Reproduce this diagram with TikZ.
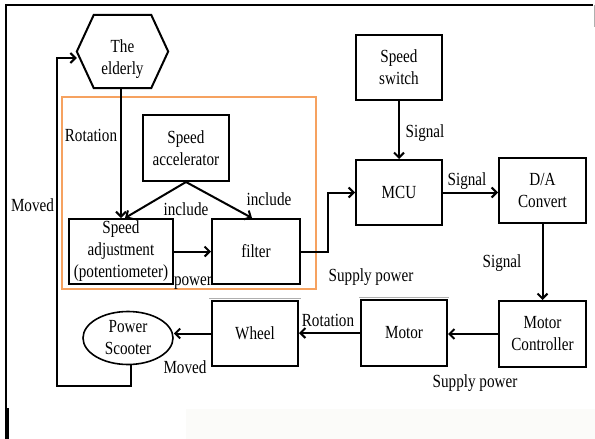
\documentclass[tikz,border=0pt]{standalone}
\usepackage{fontspec}
\setmainfont{Liberation Serif}[FakeStretch=0.82]
\usetikzlibrary{arrows.meta,shapes.geometric}
\definecolor{frameorange}{RGB}{246,162,96}
\definecolor{ghostgray}{RGB}{175,175,175}
\definecolor{paleblock}{RGB}{251,251,249}
\begin{document}
\begin{tikzpicture}[x=1pt,y=-1pt,
  every node/.style={font=\fontsize{18.5}{22}\selectfont},
  block/.style={draw,line width=2pt,align=center,inner sep=0pt,minimum height=65pt},
  link/.style={line width=2pt,-{Straight Barb[length=5pt,width=10pt]}},
  lbl/.style={inner sep=0pt},
  ghost/.style={ghostgray,line width=0.8pt}]
\useasboundingbox (0,0) rectangle (595,439);

% page frame and pale strip at the bottom
\fill[paleblock] (186,409) rectangle (595,439);
\draw[line width=1.3pt] (6,439) -- (6,5) -- (593,5);
\draw[line width=3pt] (7.5,408) -- (7.5,439);
\draw[ghostgray,line width=0.6pt] (594,5) -- (594,27);

% the user (hexagon)
\node[minimum width=91pt,minimum height=73pt,inner sep=0pt] (hex) at (122.5,51.5) {};
\draw[line width=2pt] (hex.west) -- ([xshift=17pt]hex.north west) -- ([xshift=-17pt]hex.north east)
  -- (hex.east) -- ([xshift=-17pt]hex.south east) -- ([xshift=17pt]hex.south west) -- cycle;
\node[align=center,inner sep=0pt] (hextext) at (122.5,59) {The\\elderly};

% speed control group
\draw[frameorange,line width=1.5pt] (62,97) rectangle (316,289);

% blocks
\node[block,minimum width=86pt,minimum height=66pt] (acc) at (186,148) {Speed\\accelerator};
\node[block,minimum width=104pt] (adj) at (121,251.5) {Speed\\adjustment\\(potentiometer)};
\node[block,minimum width=88pt] (filter) at (256,251.5) {filter};
\node[block,minimum width=86pt] (switch) at (399,67.5) {Speed\\switch};
\node[block,minimum width=86pt] (mcu) at (399,192.5) {MCU};
\node[block,minimum width=87pt] (da) at (542.5,190.5) {D/A\\Convert};
\node[block,minimum width=87pt,minimum height=66pt] (mc) at (542.5,334) {Motor\\Controller};
\node[block,minimum width=86pt,minimum height=66pt] (motor) at (404,333) {Motor};
\node[block,minimum width=86pt] (wheel) at (255,333.5) {Wheel};
\node[draw,ellipse,line width=1.6pt,minimum width=90pt,minimum height=53pt,inner sep=0pt,align=center] (scooter) at (128,338) {Power\\Scooter};

% faint edges above the wheel and motor blocks
\draw[ghost] ([shift={(-2pt,2pt)}]wheel.north west) -- ([shift={(2pt,2pt)}]wheel.north east);
\draw[ghost] ([shift={(-1pt,2pt)}]motor.north west) -- ([shift={(1pt,2pt)}]motor.north east);

% connector labels
\node[lbl] (lRot1) at (91,135) {Rotation};
\node[lbl] (lInc1) at (186,209) {include};
\node[lbl] (lInc2) at (269,199) {include};
\node[lbl] (lPow) at (193,283) {power};
\node[lbl] (lSup1) at (371,277) {Supply power};
\node[lbl] (lSig1) at (425,133) {Signal};
\node[lbl] (lSig2) at (467,181) {Signal};
\node[lbl] (lSig3) at (502,263) {Signal};
\node[lbl] (lSup2) at (475,383) {Supply power};
\node[lbl] (lRot2) at (328,320) {Rotation};
\node[lbl] (lMov1) at (185,367) {Moved};
\node[lbl] (lMov2) at (32.5,205) {Moved};

% connectors
\draw[link] (adj.north |- hex.south) -- (adj.north);
\draw[link] (acc.south) -- ([xshift=4pt]adj.north);
\draw[link] (acc.south) -- ([xshift=-4pt]filter.north);
\draw[link] (adj.east) -- (filter.west);
\coordinate (bend) at (328,192.5);
\draw[link] (filter.east) -| (bend) -- (mcu.west);
\draw[link] (switch.south) -- (mcu.north);
\draw[link] (mcu.east) -- (mcu.east -| da.west);
\draw[link] (da.south) -- (mc.north);
\draw[link] (mc.west) -- (mc.west -| motor.east);
\draw[link] (motor.west) -- (motor.west -| wheel.east);
\draw[link] (wheel.west) -- (wheel.west -| scooter.east);
\coordinate (loopBL) at (57,386);
\draw[link] ([xshift=3pt]scooter.south) |- (loopBL) |- ([yshift=-6.5pt]hex.west);
\end{tikzpicture}
\end{document}
